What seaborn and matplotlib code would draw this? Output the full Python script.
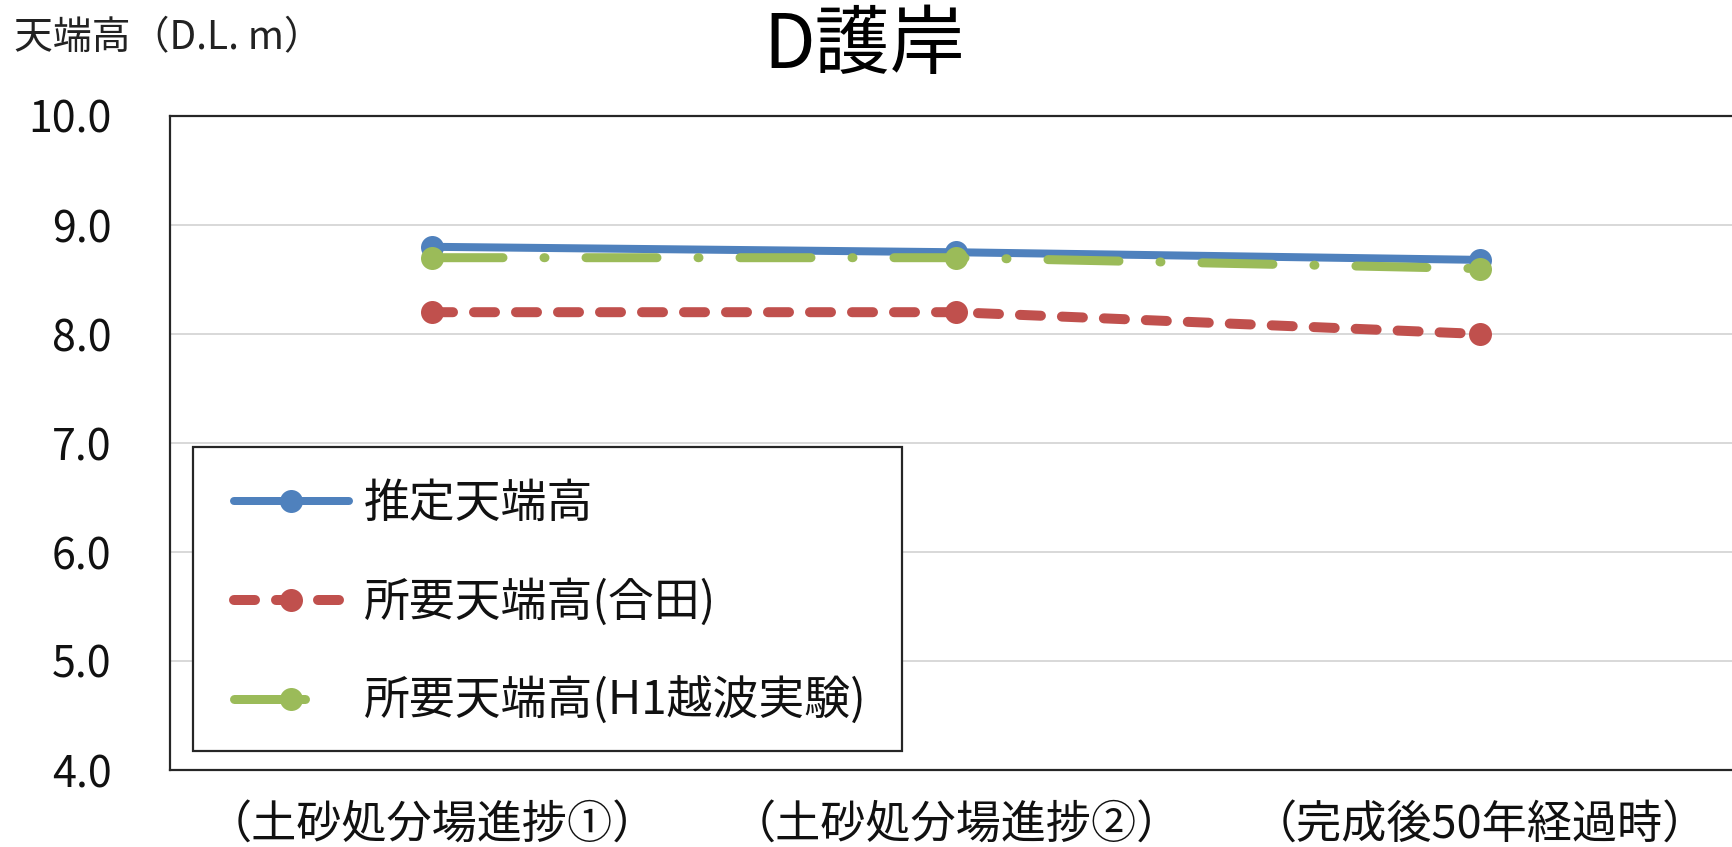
import matplotlib
matplotlib.use("Agg")
import matplotlib.pyplot as plt
import seaborn as sns
import pandas as pd
from matplotlib.patches import Rectangle

# Chart data
stages = ["（土砂処分場進捗①）", "（土砂処分場進捗②）", "（完成後50年経過時）"]
estimated = [8.80, 8.75, 8.68]
required_goda = [8.20, 8.20, 8.00]
required_h1 = [8.70, 8.70, 8.60]
series_names = ["推定天端高", "所要天端高(合田)", "所要天端高(H1越波実験)"]
y_ticks = [4.0, 5.0, 6.0, 7.0, 8.0, 9.0, 10.0]

sns.set_theme(style="white")
plt.rcParams["font.family"] = ["Noto Sans CJK JP", "DejaVu Sans"]

W, H, DPI = 1733, 847, 100
fig = plt.figure(figsize=(W / DPI, H / DPI), dpi=DPI)
ax = fig.add_axes([170 / W, 77 / H, 1572 / W, 654 / H])

x = list(range(len(stages)))
colors = ["#4f81bd", "#c0504d", "#9bbb59"]
series = [estimated, required_goda, required_h1]

px = 72.0 / DPI  # points per pixel
lws = [8 * px, 10 * px, 9 * px]
# dash patterns in pixels (converted to linewidth units below)
dash_px = [None, (21, 21), (71, 41, 1, 41)]


def apply_dashes(line, lw, pattern):
    lw_px = lw / px
    line.set_dashes([d / lw_px for d in pattern])
    line.set_dash_capstyle("round")


handles = []
for vals, col, lw, dp, name in zip(series, colors, lws, dash_px, series_names):
    df = pd.DataFrame({"x": x, "y": vals})
    sns.lineplot(data=df, x="x", y="y", ax=ax, color=col, linewidth=lw,
                 marker="o", markersize=23 * px, markeredgewidth=0,
                 markerfacecolor=col, zorder=3, label=name)
    line = ax.lines[-1]
    line.set_solid_capstyle("round")
    if dp is not None:
        apply_dashes(line, lw, dp)
    handles.append(line)

ax.set_xlim(-0.5, 2.5)
ax.set_ylim(4.0, 10.0)
ax.set_yticks(y_ticks)
ax.set_yticklabels([f"{v:.1f}" for v in y_ticks])
ax.set_xticks(x)
ax.set_xticklabels(stages)
ax.set_xlabel("")
ax.set_ylabel("")

ax.tick_params(axis="y", length=0, pad=42, labelsize=31, labelcolor="#111111")
ax.tick_params(axis="x", length=0, pad=23, labelsize=32.5, labelcolor="#111111")

ax.grid(axis="y", color="#d9d9d9", linewidth=2 * px)
ax.grid(axis="x", visible=False)
ax.set_axisbelow(True)
for side in ["left", "top", "bottom"]:
    ax.spines[side].set_color("#262626")
    ax.spines[side].set_linewidth(2.2 * px)
ax.spines["right"].set_visible(False)

# legend frame drawn as its own box so the entries can be placed freely inside
frame = Rectangle((193 / W, 1 - 751 / H), (902 - 193) / W, (751 - 447) / H,
                  transform=fig.transFigure, facecolor="white",
                  edgecolor="#262626", linewidth=2.2 * px, zorder=4.5,
                  clip_on=False)
ax.add_patch(frame)

leg = ax.legend(handles=handles, labels=series_names,
                loc="center left",
                bbox_to_anchor=(234 / W, 1 - 603 / H),
                bbox_transform=fig.transFigure,
                borderaxespad=0, borderpad=0, fontsize=33, frameon=False,
                handlelength=2.5, handletextpad=0.33,
                labelspacing=1.1, numpoints=1)
leg.set_zorder(5)
for t in leg.get_texts():
    t.set_color("#111111")

# legend samples: the dash-dot series shows a single long dash
leg_lines = leg.get_lines()
apply_dashes(leg_lines[1], lws[1], (21, 21))
apply_dashes(leg_lines[2], lws[2], (71, 400))

fig.text(864 / W, 1 - 47 / H, "D護岸", ha="center", va="center",
         fontsize=54, color="#000000")
fig.text(14 / W, 1 - 38 / H, "天端高（D.L. m）", ha="left", va="center",
         fontsize=28, color="#222222")

fig.savefig("out.png", dpi=DPI)
